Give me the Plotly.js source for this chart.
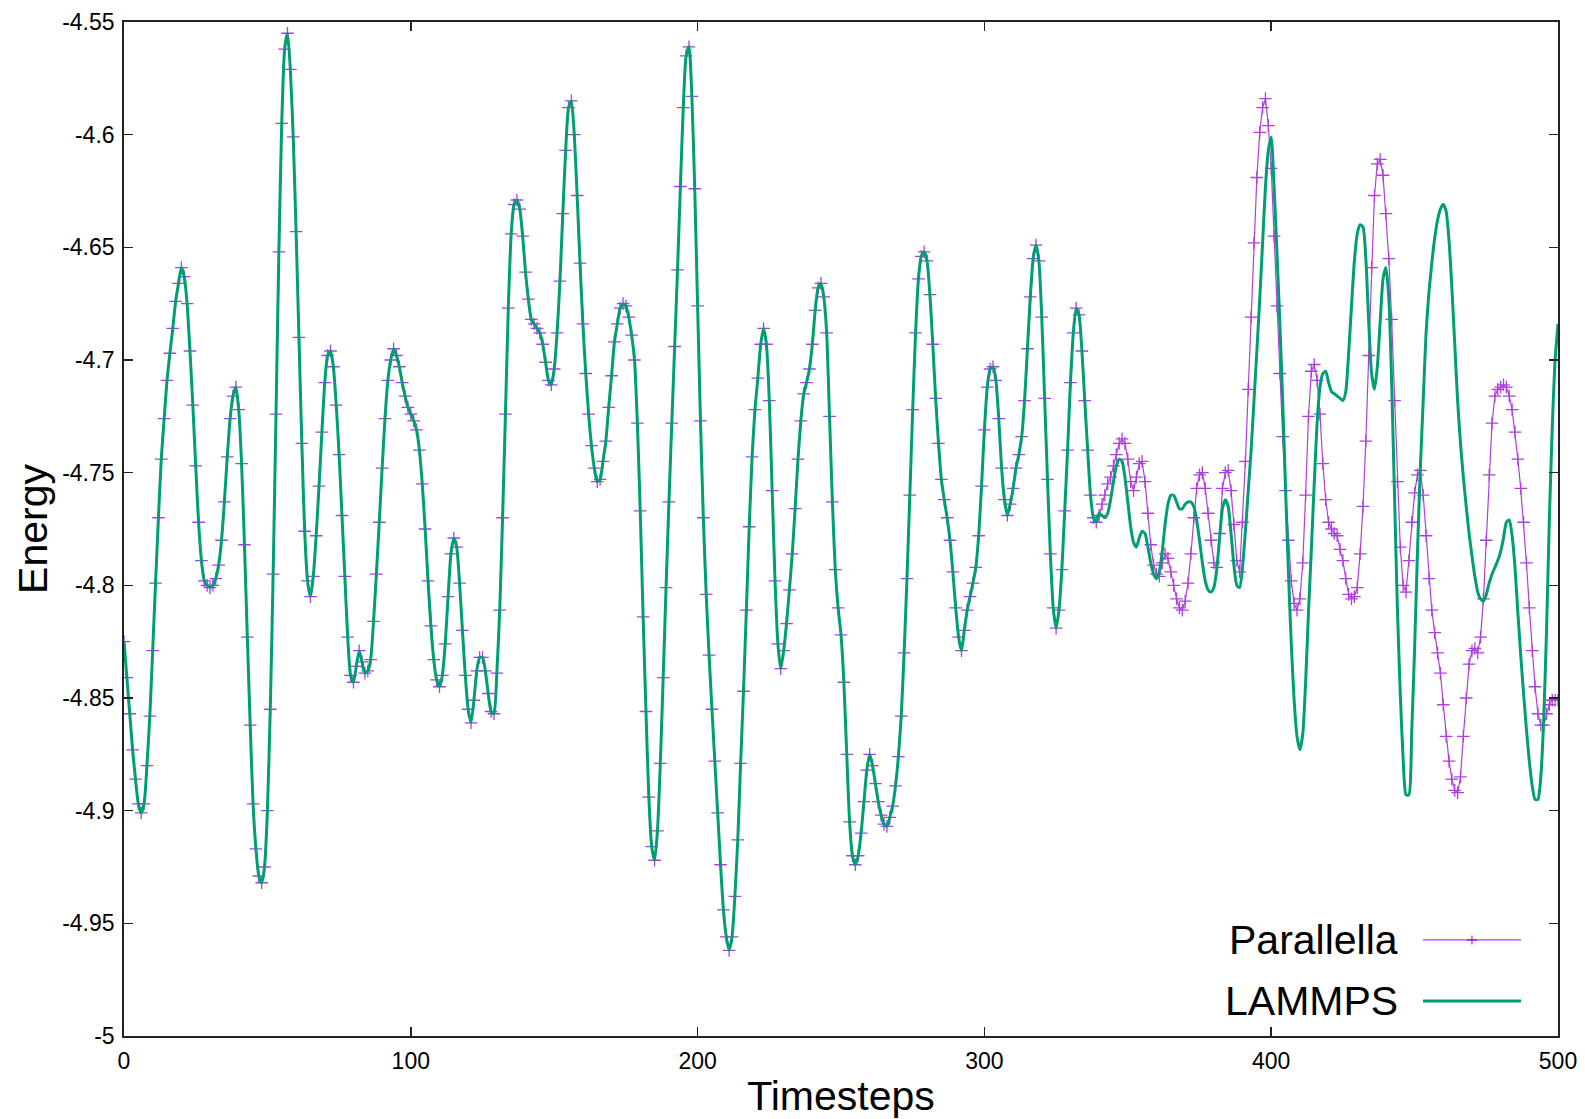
<!DOCTYPE html>
<html>
<head>
<meta charset="utf-8">
<script src="https://cdn.plot.ly/plotly-3.0.1.min.js"></script>
<style>html,body{margin:0;padding:0;background:#fff;}#chart{width:1585px;height:1119px;}</style>
</head>
<body>
<div id="chart"></div>
<script>
// Energy per timestep (timestep 0..500)
const parallella = [
-4.825,-4.841,-4.857,-4.873,-4.886,-4.897,-4.901,-4.897,-4.880,-4.858,
-4.829,-4.799,-4.770,-4.744,-4.726,-4.709,-4.697,-4.686,-4.674,-4.666,
-4.659,-4.663,-4.675,-4.696,-4.720,-4.747,-4.772,-4.789,-4.798,-4.800,
-4.801,-4.800,-4.797,-4.791,-4.780,-4.763,-4.743,-4.726,-4.716,-4.712,
-4.722,-4.746,-4.782,-4.823,-4.862,-4.897,-4.917,-4.929,-4.932,-4.925,
-4.900,-4.855,-4.795,-4.724,-4.652,-4.595,-4.562,-4.555,-4.571,-4.601,
-4.643,-4.690,-4.737,-4.776,-4.798,-4.805,-4.796,-4.778,-4.756,-4.732,
-4.710,-4.698,-4.696,-4.703,-4.720,-4.742,-4.769,-4.796,-4.823,-4.840,
-4.843,-4.836,-4.829,-4.834,-4.839,-4.838,-4.833,-4.816,-4.795,-4.772,
-4.748,-4.726,-4.709,-4.700,-4.695,-4.698,-4.703,-4.710,-4.716,-4.721,
-4.724,-4.727,-4.731,-4.740,-4.755,-4.775,-4.798,-4.818,-4.833,-4.842,
-4.845,-4.840,-4.826,-4.805,-4.786,-4.779,-4.783,-4.799,-4.820,-4.840,
-4.855,-4.861,-4.851,-4.838,-4.832,-4.832,-4.838,-4.848,-4.856,-4.857,
-4.839,-4.811,-4.770,-4.724,-4.677,-4.644,-4.631,-4.629,-4.633,-4.645,
-4.661,-4.673,-4.682,-4.684,-4.686,-4.688,-4.693,-4.701,-4.709,-4.711,
-4.704,-4.688,-4.665,-4.635,-4.607,-4.588,-4.585,-4.600,-4.627,-4.657,
-4.684,-4.706,-4.724,-4.738,-4.748,-4.754,-4.753,-4.745,-4.736,-4.721,
-4.707,-4.692,-4.684,-4.677,-4.675,-4.676,-4.681,-4.689,-4.700,-4.728,
-4.767,-4.814,-4.856,-4.894,-4.916,-4.922,-4.909,-4.879,-4.841,-4.801,
-4.763,-4.728,-4.694,-4.660,-4.623,-4.588,-4.565,-4.561,-4.583,-4.624,
-4.676,-4.727,-4.770,-4.804,-4.831,-4.855,-4.878,-4.901,-4.924,-4.944,
-4.956,-4.962,-4.956,-4.938,-4.913,-4.879,-4.847,-4.811,-4.774,-4.743,
-4.722,-4.708,-4.693,-4.686,-4.693,-4.718,-4.758,-4.798,-4.826,-4.837,
-4.829,-4.817,-4.802,-4.786,-4.766,-4.744,-4.727,-4.715,-4.710,-4.704,
-4.693,-4.678,-4.668,-4.666,-4.672,-4.688,-4.725,-4.763,-4.793,-4.810,
-4.822,-4.843,-4.875,-4.905,-4.920,-4.924,-4.920,-4.910,-4.896,-4.882,
-4.875,-4.880,-4.888,-4.896,-4.902,-4.906,-4.907,-4.903,-4.898,-4.889,
-4.876,-4.858,-4.830,-4.797,-4.760,-4.722,-4.688,-4.664,-4.654,-4.652,
-4.656,-4.671,-4.693,-4.717,-4.737,-4.753,-4.762,-4.770,-4.780,-4.794,
-4.810,-4.823,-4.829,-4.820,-4.811,-4.805,-4.799,-4.792,-4.778,-4.756,
-4.731,-4.712,-4.704,-4.703,-4.709,-4.726,-4.748,-4.762,-4.769,-4.764,
-4.757,-4.748,-4.742,-4.734,-4.718,-4.695,-4.672,-4.655,-4.649,-4.656,
-4.681,-4.717,-4.753,-4.786,-4.810,-4.819,-4.811,-4.793,-4.767,-4.740,
-4.710,-4.688,-4.677,-4.680,-4.696,-4.718,-4.740,-4.760,-4.770,-4.772,
-4.769,-4.764,-4.760,-4.755,-4.752,-4.747,-4.742,-4.737,-4.735,-4.737,
-4.744,-4.754,-4.758,-4.752,-4.746,-4.745,-4.754,-4.768,-4.782,-4.791,
-4.795,-4.796,-4.790,-4.786,-4.788,-4.794,-4.800,-4.806,-4.810,-4.811,
-4.807,-4.799,-4.786,-4.770,-4.757,-4.751,-4.750,-4.757,-4.768,-4.780,
-4.790,-4.792,-4.777,-4.757,-4.750,-4.749,-4.758,-4.773,-4.789,-4.794,
-4.772,-4.745,-4.713,-4.681,-4.648,-4.619,-4.599,-4.588,-4.584,-4.596,
-4.615,-4.645,-4.676,-4.706,-4.734,-4.758,-4.780,-4.798,-4.808,-4.811,
-4.806,-4.790,-4.760,-4.725,-4.705,-4.702,-4.709,-4.724,-4.746,-4.762,
-4.772,-4.775,-4.777,-4.778,-4.784,-4.789,-4.797,-4.804,-4.806,-4.805,
-4.801,-4.786,-4.765,-4.736,-4.698,-4.659,-4.627,-4.613,-4.611,-4.618,
-4.635,-4.655,-4.682,-4.718,-4.754,-4.783,-4.800,-4.803,-4.789,-4.772,
-4.759,-4.751,-4.749,-4.760,-4.778,-4.797,-4.811,-4.821,-4.830,-4.839,
-4.853,-4.867,-4.878,-4.886,-4.891,-4.892,-4.885,-4.867,-4.850,-4.835,
-4.829,-4.828,-4.830,-4.823,-4.806,-4.780,-4.751,-4.728,-4.716,-4.713,
-4.712,-4.711,-4.712,-4.716,-4.722,-4.732,-4.744,-4.757,-4.772,-4.790,
-4.810,-4.829,-4.845,-4.857,-4.862,-4.862,-4.857,-4.853,-4.851,-4.851,
-4.851
];

// LAMMPS coincides with Parallella up to timestep 339, then follows its own path (timesteps 340..500)
const lammpsSharedUntil = 340;
const lammpsTail = [
-4.768,-4.769,-4.770,-4.768,-4.762,-4.754,-4.747,-4.744,-4.745,-4.752,
-4.763,-4.774,-4.781,-4.783,-4.779,-4.776,-4.777,-4.783,-4.790,-4.795,
-4.797,-4.794,-4.785,-4.773,-4.764,-4.760,-4.760,-4.763,-4.766,-4.766,
-4.764,-4.763,-4.763,-4.765,-4.771,-4.780,-4.790,-4.798,-4.802,-4.803,
-4.801,-4.793,-4.779,-4.766,-4.762,-4.765,-4.777,-4.791,-4.800,-4.801,
-4.792,-4.776,-4.758,-4.740,-4.718,-4.696,-4.673,-4.648,-4.623,-4.607,
-4.601,-4.623,-4.652,-4.683,-4.718,-4.757,-4.794,-4.826,-4.851,-4.867,
-4.873,-4.866,-4.843,-4.812,-4.784,-4.755,-4.728,-4.712,-4.706,-4.705,
-4.710,-4.714,-4.715,-4.716,-4.717,-4.718,-4.714,-4.697,-4.676,-4.656,
-4.644,-4.640,-4.641,-4.655,-4.683,-4.706,-4.713,-4.703,-4.683,-4.664,
-4.659,-4.672,-4.710,-4.760,-4.810,-4.848,-4.877,-4.893,-4.893,-4.865,
-4.828,-4.785,-4.748,-4.718,-4.688,-4.670,-4.657,-4.646,-4.638,-4.633,
-4.631,-4.634,-4.647,-4.668,-4.693,-4.718,-4.737,-4.752,-4.765,-4.777,
-4.787,-4.796,-4.803,-4.806,-4.807,-4.804,-4.799,-4.795,-4.792,-4.789,
-4.785,-4.779,-4.772,-4.771,-4.778,-4.792,-4.812,-4.831,-4.848,-4.864,
-4.878,-4.889,-4.895,-4.895,-4.885,-4.860,-4.820,-4.770,-4.730,-4.700,
-4.684
];

const seriesNames = ['Parallella', 'LAMMPS'];
const xTickVals = [0, 100, 200, 300, 400, 500];
const xTickText = ['0', '100', '200', '300', '400', '500'];
const yTickVals = [-5, -4.95, -4.9, -4.85, -4.8, -4.75, -4.7, -4.65, -4.6, -4.55];
const yTickText = ['-5', '-4.95', '-4.9', '-4.85', '-4.8', '-4.75', '-4.7', '-4.65', '-4.6', '-4.55'];
const xTitle = 'Timesteps';
const yTitle = 'Energy';

const timesteps = parallella.map((_, i) => i);
const lammps = parallella.slice(0, lammpsSharedUntil).concat(lammpsTail);

const PURPLE = '#9400d3';
const GREEN = '#009e73';
const FONT = 'Liberation Sans, Arial, sans-serif';

const traces = [
  {
    x: timesteps, y: parallella, name: seriesNames[0], type: 'scatter', mode: 'lines+markers',
    line: {color: PURPLE, width: 1.2},
    marker: {symbol: 'cross-thin-open', size: 9, color: PURPLE, line: {color: PURPLE, width: 1.3}},
    opacity: 0.75
  },
  {
    x: timesteps, y: lammps, name: seriesNames[1], type: 'scatter', mode: 'lines',
    line: {color: GREEN, width: 3, shape: 'spline', smoothing: 0.6}
  }
];

// legend (gnuplot style: text on the left, sample on the right)
const legX0 = 0.9059, legX1 = 0.9742, legXc = 0.94, legTextX = 0.8897;
const legY = [0.0947, 0.0345];

const layout = {
  width: 1585, height: 1119,
  margin: {l: 124, r: 27, t: 22, b: 83},
  paper_bgcolor: '#ffffff', plot_bgcolor: '#ffffff',
  showlegend: false,
  font: {family: FONT, color: '#000'},
  xaxis: {
    range: [0, 500], tickmode: 'array', tickvals: xTickVals, ticktext: xTickText,
    ticks: 'inside', ticklen: 9, tickwidth: 1.5, tickcolor: '#222',
    showline: true, linecolor: '#222', linewidth: 1.8, mirror: 'allticks',
    showgrid: false, zeroline: false, automargin: false,
    ticklabelstandoff: 4,
    tickfont: {family: FONT, size: 23, color: '#000'},
    title: {text: xTitle, font: {family: FONT, size: 41, color: '#000'}, standoff: 18}
  },
  yaxis: {
    range: [-5, -4.55], tickmode: 'array', tickvals: yTickVals, ticktext: yTickText,
    ticks: 'inside', ticklen: 9, tickwidth: 1.5, tickcolor: '#222',
    showline: true, linecolor: '#222', linewidth: 1.8, mirror: 'allticks',
    showgrid: false, zeroline: false, automargin: false,
    ticklabelstandoff: 3,
    tickfont: {family: FONT, size: 23, color: '#000'},
    title: {text: yTitle, font: {family: FONT, size: 41, color: '#000'}, standoff: 2}
  },
  annotations: [
    {text: seriesNames[0], x: legTextX, y: legY[0], xref: 'paper', yref: 'paper', xanchor: 'right', yanchor: 'middle', showarrow: false, font: {family: FONT, size: 41, color: '#000'}},
    {text: seriesNames[1], x: legTextX, y: legY[1], xref: 'paper', yref: 'paper', xanchor: 'right', yanchor: 'middle', showarrow: false, font: {family: FONT, size: 41, color: '#000'}}
  ],
  shapes: [
    {type: 'line', xref: 'paper', yref: 'paper', x0: legX0, x1: legX1, y0: legY[0], y1: legY[0], line: {color: PURPLE, width: 1.2}, opacity: 0.75},
    {type: 'line', xref: 'paper', yref: 'paper', x0: legXc - 0.0035, x1: legXc + 0.0035, y0: legY[0], y1: legY[0], line: {color: PURPLE, width: 1.5}, opacity: 0.75},
    {type: 'line', xref: 'paper', yref: 'paper', x0: legXc, x1: legXc, y0: legY[0] - 0.0045, y1: legY[0] + 0.0045, line: {color: PURPLE, width: 1.3}, opacity: 0.75},
    {type: 'line', xref: 'paper', yref: 'paper', x0: legX0, x1: legX1, y0: legY[1], y1: legY[1], line: {color: GREEN, width: 3}}
  ]
};

Plotly.newPlot('chart', traces, layout, {staticPlot: true, displayModeBar: false});
</script>
</body>
</html>
